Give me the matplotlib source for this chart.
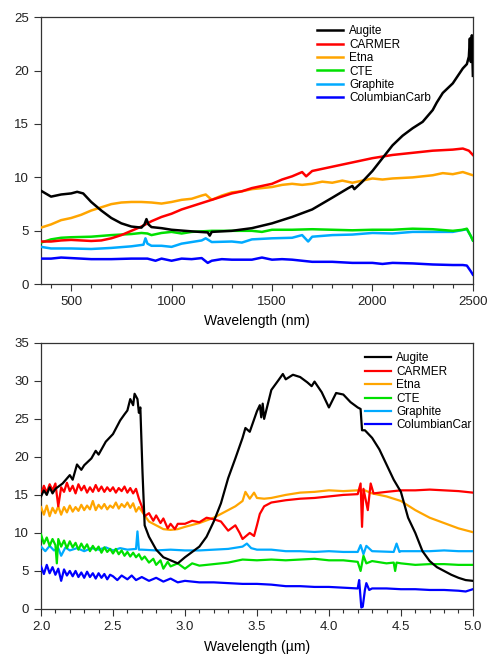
import matplotlib
matplotlib.use("Agg")
import matplotlib.pyplot as plt
from matplotlib.ticker import MultipleLocator, FormatStrFormatter

plt.rcParams['font.family'] = ['Liberation Sans', 'DejaVu Sans']

colors = {"Augite": "#000000", "CARMER": "#ff0000", "Etna": "#ffa500",
          "CTE": "#00e000", "Graphite": "#00aaff", "ColumbianCarb": "#0000ff"}

# ---------------- top panel (nm) ----------------
aug_nm_x = [350, 400, 450, 500, 530, 560, 600, 650, 700, 750, 800, 850, 865, 875, 885, 900, 950, 1000,
            1100, 1180, 1190, 1200, 1300, 1400, 1500, 1600, 1700, 1800, 1880, 1900, 1910, 1950, 2000, 2050,
            2100, 2150, 2200, 2250, 2300, 2320, 2350, 2400, 2450, 2470, 2480, 2485, 2490, 2495, 2500]
aug_nm_y = [8.75, 8.2, 8.4, 8.5, 8.65, 8.5, 7.7, 6.9, 6.2, 5.7, 5.4, 5.3, 5.6, 6.1, 5.6, 5.35, 5.25, 5.1,
            4.95, 4.85, 4.55, 4.9, 5.0, 5.25, 5.7, 6.3, 7.0, 8.1, 9.0, 9.2, 8.9, 9.6, 10.6, 11.8,
            13.0, 13.9, 14.6, 15.2, 16.3, 17.0, 17.9, 18.8, 20.2, 20.6, 21.3, 23.0, 20.8, 23.3, 19.5]

car_nm_x = [350, 400, 450, 500, 600, 650, 700, 750, 800, 850, 900, 950, 1000, 1050, 1100, 1150, 1200,
            1250, 1300, 1350, 1400, 1450, 1500, 1550, 1600, 1650, 1670, 1700, 1800, 1900, 2000, 2100,
            2200, 2300, 2400, 2450, 2480, 2500]
car_nm_y = [4.0, 4.0, 4.1, 4.15, 4.05, 4.1, 4.3, 4.6, 5.0, 5.4, 5.9, 6.3, 6.6, 7.0, 7.3, 7.6, 7.9,
            8.2, 8.5, 8.7, 9.0, 9.2, 9.4, 9.8, 10.1, 10.5, 10.1, 10.6, 11.0, 11.4, 11.8, 12.1,
            12.3, 12.5, 12.6, 12.7, 12.5, 12.1]

etna_nm_x = [350, 400, 450, 500, 550, 600, 650, 700, 750, 800, 850, 900, 950, 1000, 1050, 1100, 1150,
             1170, 1200, 1250, 1300, 1350, 1400, 1450, 1500, 1550, 1600, 1650, 1700, 1750, 1800, 1850,
             1900, 1950, 2000, 2050, 2100, 2200, 2300, 2350, 2400, 2450, 2500]
etna_nm_y = [5.3, 5.6, 6.0, 6.2, 6.5, 6.9, 7.2, 7.5, 7.65, 7.7, 7.7, 7.65, 7.55, 7.7, 7.9, 8.0, 8.3,
             8.4, 7.9, 8.3, 8.6, 8.7, 8.9, 9.0, 9.1, 9.3, 9.4, 9.3, 9.4, 9.6, 9.5, 9.7,
             9.5, 9.7, 9.9, 9.8, 9.9, 10.0, 10.2, 10.4, 10.3, 10.5, 10.2]

cte_nm_x = [350, 400, 450, 500, 600, 700, 800, 850, 880, 900, 950, 1000, 1050, 1100, 1200, 1300, 1400,
            1450, 1500, 1600, 1700, 1800, 1900, 2000, 2100, 2200, 2300, 2400, 2450, 2470, 2490, 2500]
cte_nm_y = [3.9, 4.2, 4.35, 4.4, 4.45, 4.6, 4.7, 4.8, 4.75, 4.6, 4.8, 4.9, 4.75, 4.9, 5.0, 5.0, 5.0,
            4.9, 5.1, 5.1, 5.15, 5.1, 5.05, 5.1, 5.1, 5.2, 5.15, 5.0, 5.1, 5.2, 4.5, 4.1]

gra_nm_x = [350, 400, 500, 600, 700, 800, 860, 870, 880, 900, 950, 1000, 1050, 1100, 1150, 1170, 1200,
            1300, 1350, 1400, 1500, 1600, 1650, 1680, 1700, 1800, 1900, 2000, 2100, 2200, 2300, 2400,
            2470, 2490, 2500]
gra_nm_y = [3.5, 3.35, 3.35, 3.3, 3.4, 3.55, 3.7, 4.3, 3.8, 3.6, 3.6, 3.5, 3.8, 3.95, 4.1, 4.3, 3.95,
            4.0, 3.9, 4.2, 4.3, 4.35, 4.6, 4.0, 4.45, 4.6, 4.65, 4.8, 4.75, 4.9, 4.9, 4.9,
            5.15, 4.5, 4.1]

col_nm_x = [350, 400, 450, 500, 600, 700, 800, 880, 920, 950, 1000, 1050, 1100, 1150, 1180, 1200, 1250,
            1300, 1400, 1450, 1500, 1550, 1600, 1650, 1700, 1800, 1900, 2000, 2050, 2100, 2200, 2300,
            2400, 2450, 2470, 2490, 2500]
col_nm_y = [2.4, 2.4, 2.5, 2.45, 2.35, 2.35, 2.4, 2.4, 2.2, 2.4, 2.2, 2.4, 2.35, 2.45, 2.0, 2.2, 2.35,
            2.3, 2.3, 2.5, 2.3, 2.35, 2.3, 2.2, 2.1, 2.1, 2.0, 2.0, 1.9, 2.0, 1.95, 1.85,
            1.8, 1.8, 1.75, 1.2, 0.9]

# ---------------- bottom panel (um) ----------------
aug_um_x = [2.0, 2.02, 2.04, 2.06, 2.08, 2.1, 2.15, 2.2, 2.22, 2.25, 2.28, 2.3, 2.35, 2.38, 2.4, 2.45,
            2.5, 2.55, 2.58, 2.6, 2.62, 2.64, 2.65, 2.67, 2.68, 2.69, 2.705, 2.72, 2.75, 2.8, 2.85,
            2.9, 2.95, 3.0, 3.05, 3.1, 3.15, 3.2, 3.25, 3.3, 3.35, 3.4, 3.42, 3.45, 3.5, 3.52, 3.53,
            3.54, 3.55, 3.6, 3.65, 3.68, 3.7, 3.75, 3.8, 3.85, 3.88, 3.9, 3.95, 4.0, 4.05, 4.1, 4.15,
            4.2, 4.22, 4.23, 4.25, 4.3, 4.35, 4.4, 4.45, 4.5, 4.55, 4.6, 4.65, 4.7, 4.75, 4.8, 4.85,
            4.9, 4.95, 5.0]
aug_um_y = [14.8, 15.6, 15.0, 16.0, 15.2, 15.8, 16.5, 17.6, 17.0, 19.0, 18.3, 18.9, 19.8, 20.8, 20.3, 22.0,
            23.0, 24.8, 25.6, 26.1, 27.6, 26.8, 28.3, 27.6, 25.8, 26.5, 18.0, 11.0, 9.5, 7.8, 6.8,
            6.4, 6.0, 6.8, 7.5, 8.2, 9.5, 11.5, 13.9, 17.2, 19.8, 22.5, 23.8, 23.3, 26.0, 26.8, 25.2,
            27.0, 25.0, 28.8, 30.1, 30.9, 30.2, 30.8, 30.5, 29.8, 29.3, 29.9, 28.5, 26.5, 28.4, 28.2, 27.2,
            26.5, 26.3, 23.5, 23.5, 22.5, 21.0, 19.0, 17.0, 15.4, 12.0, 10.0, 7.6, 6.3, 5.5, 5.0, 4.5,
            4.1, 3.8, 3.7]

car_um_x = [2.0, 2.02, 2.04, 2.06, 2.08, 2.1, 2.12, 2.14, 2.16, 2.18, 2.2, 2.22, 2.24, 2.26, 2.28, 2.3,
            2.32, 2.34, 2.36, 2.38, 2.4, 2.42, 2.44, 2.46, 2.48, 2.5, 2.52, 2.54, 2.56, 2.58, 2.6,
            2.62, 2.64, 2.66, 2.68, 2.7, 2.72, 2.75, 2.78, 2.8, 2.83, 2.85, 2.88, 2.9, 2.93, 2.95, 3.0,
            3.05, 3.1, 3.15, 3.2, 3.25, 3.3, 3.35, 3.38, 3.4, 3.45, 3.48, 3.5, 3.52, 3.55, 3.6, 3.7,
            3.8, 3.9, 4.0, 4.1, 4.2, 4.22, 4.23, 4.24, 4.27, 4.29, 4.31, 4.4, 4.5, 4.6, 4.7, 4.8, 4.9, 5.0]
car_um_y = [15.0, 16.2, 15.3, 16.4, 15.6, 16.5, 13.5, 16.0, 15.4, 16.6, 15.5, 16.2, 15.2, 16.4, 15.6, 16.2,
            15.3, 16.0, 15.4, 16.3, 15.5, 16.1, 15.4, 16.0, 15.5, 16.0, 15.3, 15.9, 15.5, 16.1, 15.3,
            15.9, 15.2, 15.8, 14.5, 13.5, 12.2, 12.6, 11.6, 12.3, 11.3, 11.9, 10.6, 11.2, 10.5, 11.2, 11.2,
            11.6, 11.4, 12.0, 11.8, 11.5, 10.3, 11.0, 10.0, 9.2, 10.0, 9.6, 11.0, 12.5, 13.5, 14.0, 14.3,
            14.5, 14.6, 14.8, 15.0, 15.1, 16.5, 10.8, 15.8, 13.0, 16.5, 15.2, 15.4, 15.6, 15.6, 15.7, 15.6, 15.5, 15.3]

etna_um_x = [2.0, 2.02, 2.04, 2.06, 2.08, 2.1, 2.12, 2.14, 2.16, 2.18, 2.2, 2.22, 2.24, 2.26, 2.28, 2.3,
             2.32, 2.34, 2.36, 2.38, 2.4, 2.42, 2.44, 2.46, 2.48, 2.5, 2.52, 2.54, 2.56, 2.58, 2.6,
             2.62, 2.64, 2.66, 2.68, 2.72, 2.75, 2.8, 2.85, 2.9, 2.95, 3.0, 3.1, 3.2, 3.25, 3.3, 3.35,
             3.4, 3.42, 3.45, 3.48, 3.5, 3.55, 3.6, 3.7, 3.8, 3.9, 4.0, 4.1, 4.2, 4.25, 4.3, 4.4, 4.5,
             4.6, 4.7, 4.8, 4.9, 5.0]
etna_um_y = [13.4, 12.4, 13.6, 12.2, 13.3, 12.6, 13.5, 12.4, 13.4, 12.7, 13.6, 12.8, 13.4, 12.9, 13.7, 13.0,
             13.6, 13.1, 14.2, 13.0, 13.7, 13.2, 13.8, 13.1, 13.6, 13.3, 14.0, 13.2, 13.8, 13.4, 14.0,
             13.3, 13.9, 12.8, 13.4, 12.3, 11.5, 11.0, 10.5, 10.4, 10.5, 10.8, 11.3, 12.0, 12.5, 13.0, 13.5,
             14.2, 15.4, 14.5, 15.3, 14.6, 14.5, 14.6, 15.0, 15.3, 15.4, 15.6, 15.5, 15.6, 15.6, 15.2, 14.8, 14.2,
             13.0, 12.0, 11.3, 10.6, 10.1]

cte_um_x = [2.0, 2.02, 2.04, 2.06, 2.08, 2.1, 2.11, 2.12, 2.14, 2.16, 2.18, 2.2, 2.22, 2.24, 2.26, 2.28,
            2.3, 2.32, 2.34, 2.36, 2.38, 2.4, 2.42, 2.44, 2.46, 2.48, 2.5, 2.52, 2.54, 2.56, 2.58, 2.6,
            2.62, 2.64, 2.66, 2.68, 2.7, 2.72, 2.75, 2.78, 2.8, 2.83, 2.85, 2.88, 2.9, 2.95, 3.0, 3.05,
            3.1, 3.2, 3.3, 3.4, 3.5, 3.6, 3.7, 3.8, 3.9, 4.0, 4.1, 4.2, 4.22, 4.24, 4.26, 4.3, 4.4,
            4.45, 4.46, 4.47, 4.5, 4.6, 4.7, 4.8, 4.9, 5.0]
cte_um_y = [9.8, 8.6, 9.4, 8.3, 9.2, 8.4, 6.0, 9.2, 8.2, 9.0, 8.0, 8.9, 8.1, 8.7, 7.8, 8.6,
            7.9, 8.5, 7.6, 8.3, 7.7, 8.2, 7.4, 8.1, 7.5, 7.9, 7.3, 7.9, 7.2, 7.7, 7.0, 7.5,
            6.9, 7.4, 6.8, 7.2, 6.5, 6.9, 6.1, 6.6, 5.8, 6.4, 5.3, 6.2, 5.6, 6.0, 5.3, 6.0,
            5.7, 5.9, 6.1, 6.5, 6.4, 6.5, 6.4, 6.5, 6.6, 6.4, 6.4, 6.2, 5.0, 7.0, 6.0, 6.3, 6.0,
            6.1, 5.0, 6.1, 6.0, 5.8, 5.9, 5.9, 5.8, 5.8]

gra_um_x = [2.0, 2.03, 2.06, 2.09, 2.12, 2.14, 2.17, 2.2, 2.25, 2.3, 2.35, 2.4, 2.45, 2.5, 2.55, 2.6,
            2.66, 2.67, 2.68, 2.7, 2.8, 2.9, 3.0, 3.1, 3.2, 3.3, 3.4, 3.43, 3.46, 3.5, 3.6, 3.7, 3.8,
            3.9, 4.0, 4.1, 4.2, 4.22, 4.24, 4.26, 4.3, 4.45, 4.47, 4.49, 4.5, 4.6, 4.7, 4.8, 4.9, 5.0]
gra_um_y = [8.2, 7.6, 8.3, 7.7, 8.0, 7.0, 8.1, 7.7, 8.0, 7.6, 8.0, 7.8, 8.1, 7.7, 8.0, 7.8,
            7.9, 10.2, 7.8, 7.8, 7.7, 7.8, 7.7, 7.7, 7.8, 7.9, 8.2, 8.6, 8.0, 7.8, 7.8, 7.6, 7.6,
            7.5, 7.6, 7.5, 7.5, 8.4, 7.2, 8.3, 7.6, 7.5, 8.6, 7.5, 7.6, 7.6, 7.6, 7.7, 7.6, 7.6]

col_um_x = [2.0, 2.02, 2.04, 2.06, 2.08, 2.1, 2.12, 2.14, 2.16, 2.18, 2.2, 2.22, 2.24, 2.26, 2.28, 2.3,
            2.32, 2.34, 2.36, 2.38, 2.4, 2.42, 2.44, 2.46, 2.48, 2.5, 2.53, 2.56, 2.6, 2.63, 2.66, 2.7,
            2.75, 2.8, 2.85, 2.9, 2.95, 3.0, 3.1, 3.2, 3.3, 3.4, 3.5, 3.6, 3.7, 3.8, 3.9, 4.0, 4.1,
            4.2, 4.21, 4.225, 4.235, 4.25, 4.26, 4.28, 4.3, 4.4, 4.5, 4.6, 4.7, 4.8, 4.9, 4.95, 5.0]
col_um_y = [5.6, 4.6, 5.8, 4.7, 5.5, 4.5, 5.3, 3.7, 5.2, 4.4, 5.0, 4.3, 5.0, 4.2, 4.8, 4.1,
            4.9, 4.2, 4.7, 4.0, 4.7, 4.1, 4.6, 3.9, 4.5, 4.3, 3.8, 4.4, 3.9, 4.4, 3.8, 4.2,
            3.7, 4.1, 3.6, 4.0, 3.5, 3.7, 3.5, 3.5, 3.4, 3.3, 3.3, 3.2, 3.0, 3.0, 2.9, 2.9, 2.8,
            2.7, 3.8, 0.2, 0.3, 2.5, 3.4, 2.5, 2.7, 2.7, 2.6, 2.6, 2.5, 2.5, 2.4, 2.3, 2.6]

names = ["Augite", "CARMER", "Etna", "CTE", "Graphite", "ColumbianCarb"]
top_series = [(aug_nm_x, aug_nm_y), (car_nm_x, car_nm_y), (etna_nm_x, etna_nm_y),
              (cte_nm_x, cte_nm_y), (gra_nm_x, gra_nm_y), (col_nm_x, col_nm_y)]
bot_series = [(aug_um_x, aug_um_y), (car_um_x, car_um_y), (etna_um_x, etna_um_y),
              (cte_um_x, cte_um_y), (gra_um_x, gra_um_y), (col_um_x, col_um_y)]
bot_labels = ["Augite", "CARMER", "Etna", "CTE", "Graphite", "ColumbianCar"]

fig = plt.figure(figsize=(4.87, 6.58), dpi=100)
ax1 = fig.add_axes([0.0842, 0.568, 0.8868, 0.406])
ax2 = fig.add_axes([0.0842, 0.0745, 0.8868, 0.4045])

draw_order = [5, 4, 3, 2, 1, 0]
for i in draw_order:
    x, y = top_series[i]
    ax1.plot(x, y, color=colors[names[i]], lw=1.8, label=names[i], zorder=3 + (5 - i))
    x, y = bot_series[i]
    ax2.plot(x, y, color=colors[names[i]], lw=1.6, label=bot_labels[i], zorder=3 + (5 - i))

for ax in (ax1, ax2):
    ax.tick_params(direction='out', length=5, width=0.8, labelsize=9.5, colors='#333333',
                   labelcolor='#222222', top=False, right=False)
    ax.tick_params(which='minor', direction='out', length=3, width=0.8, colors='#333333')
    for s in ax.spines.values():
        s.set_color('#333333')
        s.set_linewidth(0.9)

ax1.set_xlim(350, 2500)
ax1.set_ylim(0, 25)
ax1.xaxis.set_major_locator(MultipleLocator(500))
ax1.xaxis.set_minor_locator(MultipleLocator(100))
ax1.yaxis.set_major_locator(MultipleLocator(5))
ax1.set_xlabel("Wavelength (nm)", fontsize=10, labelpad=4)

ax2.set_xlim(2.0, 5.0)
ax2.set_ylim(0, 35)
ax2.xaxis.set_major_locator(MultipleLocator(0.5))
ax2.xaxis.set_minor_locator(MultipleLocator(0.1))
ax2.yaxis.set_major_locator(MultipleLocator(5))
ax2.xaxis.set_major_formatter(FormatStrFormatter('%.1f'))
ax2.set_xlabel("Wavelength (\u00b5m)", fontsize=10, labelpad=5)

for ax, anchor in ((ax1, (0.62, 1.0)), (ax2, (0.73, 0.995))):
    h, l = ax.get_legend_handles_labels()
    order = [l.index(n) for n in (names if ax is ax1 else bot_labels)]
    ax.legend([h[k] for k in order], [l[k] for k in order], loc='upper left',
              bbox_to_anchor=anchor, frameon=False, fontsize=8.5, handlelength=2.2,
              handletextpad=0.5, labelspacing=0.12, borderaxespad=0.3)

fig.savefig("out.png", dpi=100)
